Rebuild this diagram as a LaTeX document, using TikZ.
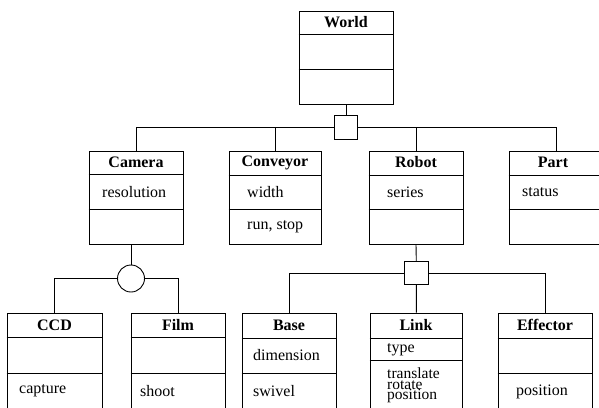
\documentclass[tikz,border=0pt]{standalone}
\usepackage{fontspec}
\setmainfont{Liberation Serif}
\begin{document}
\begin{tikzpicture}[x=1pt,y=-1pt,
  ln/.style={line width=0.9pt},
  box/.style={draw,rectangle,line width=0.9pt,inner sep=0pt},
  title/.style={font=\fontsize{16}{18}\selectfont\bfseries,inner sep=0pt},
  attr/.style={font=\fontsize{16}{18}\selectfont,inner sep=0pt,anchor=west},
  jsq/.style={draw,rectangle,line width=0.9pt,minimum size=23.5pt,inner sep=0pt},
  jci/.style={draw,circle,line width=0.9pt,minimum size=27pt,inner sep=0pt}]
\useasboundingbox (0,0) rectangle (599,407);
\clip (0,0) rectangle (599,407);
% ---------- boxes ----------
\node[box,minimum width=94pt,minimum height=93pt] (world) at (346,57.5) {};
\node[box,minimum width=94pt,minimum height=93pt] (camera) at (136,197.5) {};
\node[box,minimum width=92pt,minimum height=93pt] (conveyor) at (275,197.5) {};
\node[box,minimum width=94pt,minimum height=93pt] (robot) at (416,197.5) {};
\node[box,minimum width=94pt,minimum height=93pt] (part) at (556,197.5) {};
\node[box,minimum width=95pt,minimum height=117pt] (ccd) at (54.5,371.5) {};
\node[box,minimum width=94pt,minimum height=117pt] (film) at (178,371.5) {};
\node[box,minimum width=94pt,minimum height=117pt] (base) at (289,371.5) {};
\node[box,minimum width=92pt,minimum height=117pt] (link) at (416,371.5) {};
\node[box,minimum width=94pt,minimum height=117pt] (effector) at (545,371.5) {};
% ---------- dividers ----------
\foreach \b/\ya/\yb in {world/34/69,camera/174/209,conveyor/175/209,robot/175/209,part/175/209,
  ccd/337/373,film/337/373,base/338/373,link/338/360.5,effector/338/373}{
  \draw[ln] (\b.west |- 0,\ya) -- (\b.east |- 0,\ya);
  \draw[ln] (\b.west |- 0,\yb) -- (\b.east |- 0,\yb);
}
% ---------- titles ----------
\node[title] (tworld) at (346,22.5) {World};
\node[title] (tcamera) at (136,162.5) {Camera};
\node[title] (tconveyor) at (275,162.5) {Conveyor};
\node[title] (trobot) at (416,162.5) {Robot};
\node[title] (tpart) at (553,162.5) {Part};
\node[title] (tccd) at (54.5,325) {CCD};
\node[title] (tfilm) at (178,325) {Film};
\node[title] (tbase) at (289,325) {Base};
\node[title] (tlink) at (416,325) {Link};
\node[title] (teffector) at (545,325) {Effector};
% ---------- attributes / operations ----------
\node[attr] (a1) at (102,192) {resolution};
\node[attr] (a2) at (247,192) {width};
\node[attr] (a3) at (247,226.5) {run, stop};
\node[attr] (a4) at (387,192) {series};
\node[attr] (a5) at (522,192) {status};
\node[attr] (a6) at (19,391) {capture};
\node[attr] (a7) at (140,391) {shoot};
\node[attr] (a8) at (253,355) {dimension};
\node[attr] (a9) at (253,391) {swivel};
\node[attr] (a10) at (387,350) {type};
\node[attr,anchor=north west,align=left,font=\fontsize{15.5}{10.5}\selectfont] (a11) at (387,368) {translate\\rotate\\position};
\node[attr] (a12) at (516,392) {position};
% ---------- junctions ----------
\node[jsq] (wj) at (346,127.5) {};
\node[jsq] (rj) at (416.5,273) {};
\node[jci] (cj) at (131,278.5) {};
\coordinate (wl) at (136,127.5);
\coordinate (wr) at (556,127.5);
\coordinate (rl) at (289,273);
\coordinate (rr) at (545,273);
\coordinate (cl) at (54.5,278.5);
\coordinate (cr) at (178,278.5);
% ---------- connectors ----------
\draw[ln] (world) -- (wj);
\draw[ln] (wj.west) -- (wl) -- (camera.north);
\draw[ln] (wj.east) -- (wr) -- (part.north);
\draw[ln] (conveyor.north) -- (conveyor.north |- wl);
\draw[ln] (robot.north) -- (robot.north |- wl);
\draw[ln] (cj) -- (cj |- camera.south);
\draw[ln] (cj.west) -- (cl) -- (ccd.north);
\draw[ln] (cj.east) -- (cr) -- (film.north);
\draw[ln] (robot.south) -- (rj);
\draw[ln] (rj.west) -- (rl) -- (base.north);
\draw[ln] (rj.east) -- (rr) -- (effector.north);
\draw[ln] (rj) -- (link);
\end{tikzpicture}
\end{document}
